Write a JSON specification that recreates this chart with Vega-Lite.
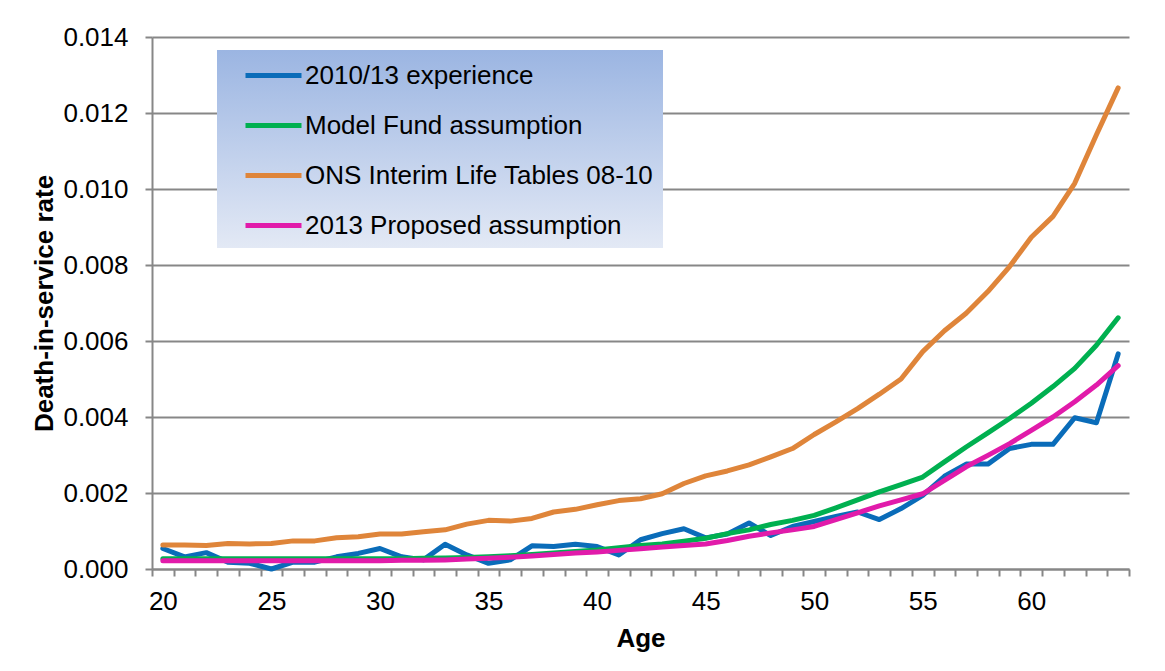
{
  "$schema": "https://vega.github.io/schema/vega-lite/v6.json",
  "autosize": {"type": "none"},
  "width": 977,
  "height": 532,
  "padding": {"left": 152, "top": 37, "right": 36, "bottom": 102},
  "background": "white",
  "config": {
    "font": "Liberation Sans",
    "view": {"stroke": null}
  },
  "datasets": {
    "rates": [
      {"age":20,"series":"2010/13 experience","rate":0.00054},{"age":21,"series":"2010/13 experience","rate":0.00032},{"age":22,"series":"2010/13 experience","rate":0.00043},{"age":23,"series":"2010/13 experience","rate":0.00018},{"age":24,"series":"2010/13 experience","rate":0.00015},{"age":25,"series":"2010/13 experience","rate":0.0},{"age":26,"series":"2010/13 experience","rate":0.00018},{"age":27,"series":"2010/13 experience","rate":0.00018},{"age":28,"series":"2010/13 experience","rate":0.00032},{"age":29,"series":"2010/13 experience","rate":0.00041},{"age":30,"series":"2010/13 experience","rate":0.00054},{"age":31,"series":"2010/13 experience","rate":0.00032},{"age":32,"series":"2010/13 experience","rate":0.00024},{"age":33,"series":"2010/13 experience","rate":0.00065},{"age":34,"series":"2010/13 experience","rate":0.00037},{"age":35,"series":"2010/13 experience","rate":0.00015},{"age":36,"series":"2010/13 experience","rate":0.00024},{"age":37,"series":"2010/13 experience","rate":0.00061},{"age":38,"series":"2010/13 experience","rate":0.00059},{"age":39,"series":"2010/13 experience","rate":0.00065},{"age":40,"series":"2010/13 experience","rate":0.00059},{"age":41,"series":"2010/13 experience","rate":0.00037},{"age":42,"series":"2010/13 experience","rate":0.00077},{"age":43,"series":"2010/13 experience","rate":0.00093},{"age":44,"series":"2010/13 experience","rate":0.00106},{"age":45,"series":"2010/13 experience","rate":0.00082},{"age":46,"series":"2010/13 experience","rate":0.00092},{"age":47,"series":"2010/13 experience","rate":0.00121},{"age":48,"series":"2010/13 experience","rate":0.00088},{"age":49,"series":"2010/13 experience","rate":0.00112},{"age":50,"series":"2010/13 experience","rate":0.00125},{"age":51,"series":"2010/13 experience","rate":0.00138},{"age":52,"series":"2010/13 experience","rate":0.0015},{"age":53,"series":"2010/13 experience","rate":0.0013},{"age":54,"series":"2010/13 experience","rate":0.00159},{"age":55,"series":"2010/13 experience","rate":0.00194},{"age":56,"series":"2010/13 experience","rate":0.00244},{"age":57,"series":"2010/13 experience","rate":0.00276},{"age":58,"series":"2010/13 experience","rate":0.00276},{"age":59,"series":"2010/13 experience","rate":0.00317},{"age":60,"series":"2010/13 experience","rate":0.00328},{"age":61,"series":"2010/13 experience","rate":0.00328},{"age":62,"series":"2010/13 experience","rate":0.00398},{"age":63,"series":"2010/13 experience","rate":0.00385},{"age":64,"series":"2010/13 experience","rate":0.00566},
      {"age":20,"series":"Model Fund assumption","rate":0.00027},{"age":21,"series":"Model Fund assumption","rate":0.00027},{"age":22,"series":"Model Fund assumption","rate":0.00027},{"age":23,"series":"Model Fund assumption","rate":0.00027},{"age":24,"series":"Model Fund assumption","rate":0.00027},{"age":25,"series":"Model Fund assumption","rate":0.00027},{"age":26,"series":"Model Fund assumption","rate":0.00027},{"age":27,"series":"Model Fund assumption","rate":0.00027},{"age":28,"series":"Model Fund assumption","rate":0.00027},{"age":29,"series":"Model Fund assumption","rate":0.00027},{"age":30,"series":"Model Fund assumption","rate":0.00027},{"age":31,"series":"Model Fund assumption","rate":0.00027},{"age":32,"series":"Model Fund assumption","rate":0.00028},{"age":33,"series":"Model Fund assumption","rate":0.00029},{"age":34,"series":"Model Fund assumption","rate":0.0003},{"age":35,"series":"Model Fund assumption","rate":0.00032},{"age":36,"series":"Model Fund assumption","rate":0.00035},{"age":37,"series":"Model Fund assumption","rate":0.00038},{"age":38,"series":"Model Fund assumption","rate":0.00042},{"age":39,"series":"Model Fund assumption","rate":0.00046},{"age":40,"series":"Model Fund assumption","rate":0.0005},{"age":41,"series":"Model Fund assumption","rate":0.00056},{"age":42,"series":"Model Fund assumption","rate":0.00062},{"age":43,"series":"Model Fund assumption","rate":0.00066},{"age":44,"series":"Model Fund assumption","rate":0.00073},{"age":45,"series":"Model Fund assumption","rate":0.00081},{"age":46,"series":"Model Fund assumption","rate":0.00093},{"age":47,"series":"Model Fund assumption","rate":0.00103},{"age":48,"series":"Model Fund assumption","rate":0.00117},{"age":49,"series":"Model Fund assumption","rate":0.00128},{"age":50,"series":"Model Fund assumption","rate":0.00141},{"age":51,"series":"Model Fund assumption","rate":0.00161},{"age":52,"series":"Model Fund assumption","rate":0.00182},{"age":53,"series":"Model Fund assumption","rate":0.00203},{"age":54,"series":"Model Fund assumption","rate":0.00222},{"age":55,"series":"Model Fund assumption","rate":0.00242},{"age":56,"series":"Model Fund assumption","rate":0.00282},{"age":57,"series":"Model Fund assumption","rate":0.00321},{"age":58,"series":"Model Fund assumption","rate":0.00358},{"age":59,"series":"Model Fund assumption","rate":0.00396},{"age":60,"series":"Model Fund assumption","rate":0.00436},{"age":61,"series":"Model Fund assumption","rate":0.0048},{"age":62,"series":"Model Fund assumption","rate":0.00528},{"age":63,"series":"Model Fund assumption","rate":0.00589},{"age":64,"series":"Model Fund assumption","rate":0.00661},
      {"age":20,"series":"ONS Interim Life Tables 08-10","rate":0.00063},{"age":21,"series":"ONS Interim Life Tables 08-10","rate":0.00063},{"age":22,"series":"ONS Interim Life Tables 08-10","rate":0.00062},{"age":23,"series":"ONS Interim Life Tables 08-10","rate":0.00067},{"age":24,"series":"ONS Interim Life Tables 08-10","rate":0.00066},{"age":25,"series":"ONS Interim Life Tables 08-10","rate":0.00067},{"age":26,"series":"ONS Interim Life Tables 08-10","rate":0.00074},{"age":27,"series":"ONS Interim Life Tables 08-10","rate":0.00074},{"age":28,"series":"ONS Interim Life Tables 08-10","rate":0.00082},{"age":29,"series":"ONS Interim Life Tables 08-10","rate":0.00085},{"age":30,"series":"ONS Interim Life Tables 08-10","rate":0.00092},{"age":31,"series":"ONS Interim Life Tables 08-10","rate":0.00092},{"age":32,"series":"ONS Interim Life Tables 08-10","rate":0.00098},{"age":33,"series":"ONS Interim Life Tables 08-10","rate":0.00103},{"age":34,"series":"ONS Interim Life Tables 08-10","rate":0.00118},{"age":35,"series":"ONS Interim Life Tables 08-10","rate":0.00128},{"age":36,"series":"ONS Interim Life Tables 08-10","rate":0.00126},{"age":37,"series":"ONS Interim Life Tables 08-10","rate":0.00133},{"age":38,"series":"ONS Interim Life Tables 08-10","rate":0.0015},{"age":39,"series":"ONS Interim Life Tables 08-10","rate":0.00157},{"age":40,"series":"ONS Interim Life Tables 08-10","rate":0.00169},{"age":41,"series":"ONS Interim Life Tables 08-10","rate":0.0018},{"age":42,"series":"ONS Interim Life Tables 08-10","rate":0.00185},{"age":43,"series":"ONS Interim Life Tables 08-10","rate":0.00198},{"age":44,"series":"ONS Interim Life Tables 08-10","rate":0.00225},{"age":45,"series":"ONS Interim Life Tables 08-10","rate":0.00245},{"age":46,"series":"ONS Interim Life Tables 08-10","rate":0.00258},{"age":47,"series":"ONS Interim Life Tables 08-10","rate":0.00274},{"age":48,"series":"ONS Interim Life Tables 08-10","rate":0.00295},{"age":49,"series":"ONS Interim Life Tables 08-10","rate":0.00317},{"age":50,"series":"ONS Interim Life Tables 08-10","rate":0.00354},{"age":51,"series":"ONS Interim Life Tables 08-10","rate":0.00387},{"age":52,"series":"ONS Interim Life Tables 08-10","rate":0.00422},{"age":53,"series":"ONS Interim Life Tables 08-10","rate":0.0046},{"age":54,"series":"ONS Interim Life Tables 08-10","rate":0.005},{"age":55,"series":"ONS Interim Life Tables 08-10","rate":0.00572},{"age":56,"series":"ONS Interim Life Tables 08-10","rate":0.00627},{"age":57,"series":"ONS Interim Life Tables 08-10","rate":0.00673},{"age":58,"series":"ONS Interim Life Tables 08-10","rate":0.0073},{"age":59,"series":"ONS Interim Life Tables 08-10","rate":0.00796},{"age":60,"series":"ONS Interim Life Tables 08-10","rate":0.00873},{"age":61,"series":"ONS Interim Life Tables 08-10","rate":0.00928},{"age":62,"series":"ONS Interim Life Tables 08-10","rate":0.01015},{"age":63,"series":"ONS Interim Life Tables 08-10","rate":0.01143},{"age":64,"series":"ONS Interim Life Tables 08-10","rate":0.01266},
      {"age":20,"series":"2013 Proposed assumption","rate":0.00022},{"age":21,"series":"2013 Proposed assumption","rate":0.00022},{"age":22,"series":"2013 Proposed assumption","rate":0.00022},{"age":23,"series":"2013 Proposed assumption","rate":0.00022},{"age":24,"series":"2013 Proposed assumption","rate":0.00022},{"age":25,"series":"2013 Proposed assumption","rate":0.00022},{"age":26,"series":"2013 Proposed assumption","rate":0.00022},{"age":27,"series":"2013 Proposed assumption","rate":0.00022},{"age":28,"series":"2013 Proposed assumption","rate":0.00022},{"age":29,"series":"2013 Proposed assumption","rate":0.00022},{"age":30,"series":"2013 Proposed assumption","rate":0.00022},{"age":31,"series":"2013 Proposed assumption","rate":0.00023},{"age":32,"series":"2013 Proposed assumption","rate":0.00023},{"age":33,"series":"2013 Proposed assumption","rate":0.00024},{"age":34,"series":"2013 Proposed assumption","rate":0.00026},{"age":35,"series":"2013 Proposed assumption","rate":0.00028},{"age":36,"series":"2013 Proposed assumption","rate":0.00031},{"age":37,"series":"2013 Proposed assumption","rate":0.00034},{"age":38,"series":"2013 Proposed assumption","rate":0.00038},{"age":39,"series":"2013 Proposed assumption","rate":0.00042},{"age":40,"series":"2013 Proposed assumption","rate":0.00045},{"age":41,"series":"2013 Proposed assumption","rate":0.00049},{"age":42,"series":"2013 Proposed assumption","rate":0.00053},{"age":43,"series":"2013 Proposed assumption","rate":0.00058},{"age":44,"series":"2013 Proposed assumption","rate":0.00062},{"age":45,"series":"2013 Proposed assumption","rate":0.00066},{"age":46,"series":"2013 Proposed assumption","rate":0.00075},{"age":47,"series":"2013 Proposed assumption","rate":0.00086},{"age":48,"series":"2013 Proposed assumption","rate":0.00095},{"age":49,"series":"2013 Proposed assumption","rate":0.00103},{"age":50,"series":"2013 Proposed assumption","rate":0.00112},{"age":51,"series":"2013 Proposed assumption","rate":0.0013},{"age":52,"series":"2013 Proposed assumption","rate":0.00148},{"age":53,"series":"2013 Proposed assumption","rate":0.00166},{"age":54,"series":"2013 Proposed assumption","rate":0.00182},{"age":55,"series":"2013 Proposed assumption","rate":0.00198},{"age":56,"series":"2013 Proposed assumption","rate":0.00233},{"age":57,"series":"2013 Proposed assumption","rate":0.00269},{"age":58,"series":"2013 Proposed assumption","rate":0.00299},{"age":59,"series":"2013 Proposed assumption","rate":0.0033},{"age":60,"series":"2013 Proposed assumption","rate":0.00365},{"age":61,"series":"2013 Proposed assumption","rate":0.004},{"age":62,"series":"2013 Proposed assumption","rate":0.0044},{"age":63,"series":"2013 Proposed assumption","rate":0.00484},{"age":64,"series":"2013 Proposed assumption","rate":0.00535}
    ]
  },
  "data": {"name": "rates"},
  "mark": {"type": "line", "strokeWidth": 5, "strokeCap": "round", "strokeJoin": "round"},
  "encoding": {
    "x": {
      "field": "age",
      "type": "ordinal",
      "scale": {"paddingInner": 0, "paddingOuter": 0},
      "axis": {
        "title": "Age",
        "titleFontSize": 26,
        "titleFontWeight": "bold",
        "titleColor": "black",
        "titleBaseline": "alphabetic",
        "titleY": 77,
        "labelExpr": "datum.value % 5 === 0 ? datum.label : ''",
        "labelAngle": 0,
        "labelOverlap": false,
        "labelFontSize": 26,
        "labelColor": "black",
        "labelPadding": 12,
        "tickBand": "extent",
        "tickSize": 7,
        "tickColor": "#878787",
        "tickWidth": 2,
        "domainColor": "#878787",
        "domainWidth": 2,
        "grid": false
      }
    },
    "y": {
      "field": "rate",
      "type": "quantitative",
      "scale": {"domain": [0, 0.014], "nice": false, "zero": true},
      "axis": {
        "title": "Death-in-service rate",
        "titleFontSize": 26,
        "titleFontWeight": "bold",
        "titleColor": "black",
        "titleAngle": 270,
        "titleAlign": "center",
        "titleBaseline": "alphabetic",
        "titleX": -100,
        "titleY": 266,
        "values": [0, 0.002, 0.004, 0.006, 0.008, 0.01, 0.012, 0.014],
        "format": ".3f",
        "labelFontSize": 26,
        "labelColor": "black",
        "labelPadding": 17,
        "tickSize": 7,
        "tickColor": "#878787",
        "tickWidth": 2,
        "domainColor": "#878787",
        "domainWidth": 2,
        "grid": true,
        "gridColor": "#878787",
        "gridWidth": 2
      }
    },
    "color": {
      "field": "series",
      "type": "nominal",
      "sort": ["2010/13 experience", "Model Fund assumption", "ONS Interim Life Tables 08-10", "2013 Proposed assumption"],
      "scale": {
        "domain": ["2010/13 experience", "Model Fund assumption", "ONS Interim Life Tables 08-10", "2013 Proposed assumption"],
        "range": ["#0A6CB9", "#00B050", "#DF853A", "#E11BAA"]
      },
      "legend": {
        "title": null,
        "orient": "none",
        "legendX": 65,
        "legendY": 13,
        "padding": 9,
        "symbolType": "M-2,0L2,0",
        "symbolSize": 784,
        "symbolStrokeWidth": 5,
        "symbolOffset": 31,
        "labelFontSize": 26,
        "labelColor": "black",
        "labelOffset": 15,
        "labelLimit": 600,
        "rowPadding": 20,
        "fillColor": {"value": {"gradient": "linear", "x1": 0, "y1": 0, "x2": 0, "y2": 1, "stops": [{"offset": 0, "color": "#9BB5E2"}, {"offset": 1, "color": "#E3E9F5"}]}}
      }
    }
  }
}
